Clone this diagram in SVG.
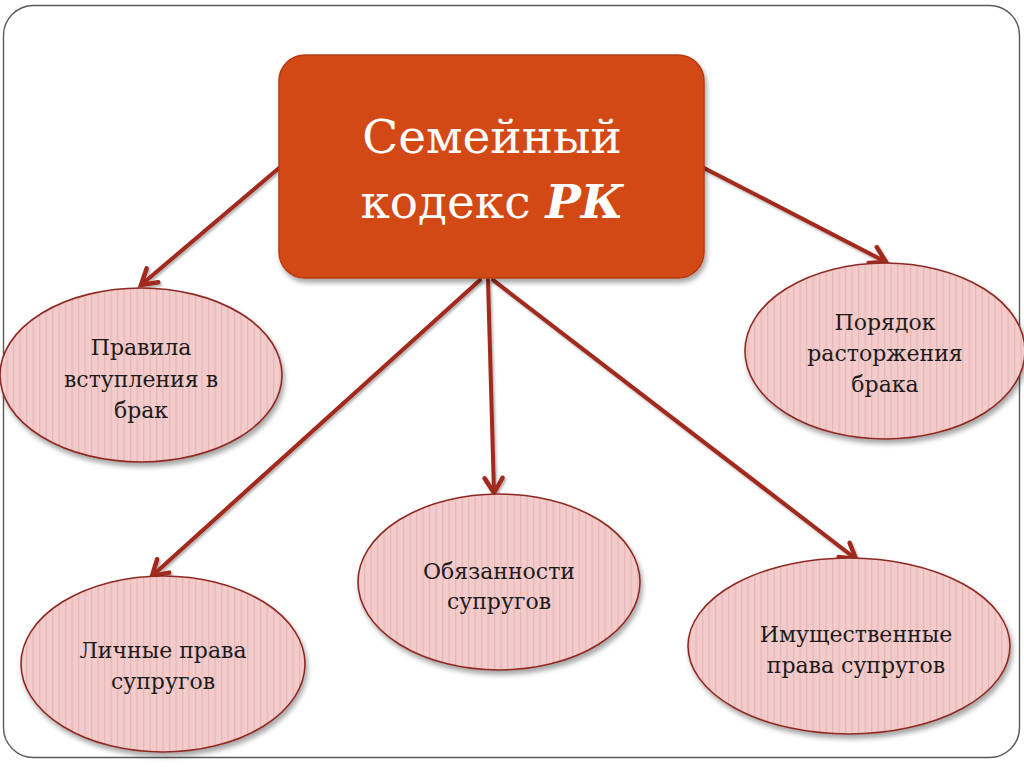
<svg xmlns="http://www.w3.org/2000/svg" width="1024" height="767" viewBox="0 0 1024 767">
  <defs>
    <pattern id="stripes" width="6.5" height="10" patternUnits="userSpaceOnUse">
      <rect width="6.5" height="10" fill="#F3CBCB"/>
      <rect x="0" width="1.2" height="10" fill="#E8B6B6"/>
    </pattern>
    <filter id="shadow" x="-10%" y="-10%" width="125%" height="130%">
      <feDropShadow dx="2" dy="4" stdDeviation="2.5" flood-color="#000" flood-opacity="0.35"/>
    </filter>
    <filter id="lshadow" x="-20%" y="-20%" width="140%" height="140%">
      <feDropShadow dx="1.5" dy="2" stdDeviation="1.2" flood-color="#000" flood-opacity="0.3"/>
    </filter>
    <marker id="arrow" markerUnits="userSpaceOnUse" markerWidth="30" markerHeight="30" viewBox="-20 -15 30 30" refX="0" refY="0" orient="auto">
      <polyline points="-15,-9 0,0 -15,9" fill="none" stroke="#A1291F" stroke-width="4.5" stroke-linecap="round" stroke-linejoin="miter"/>
    </marker>
  </defs>
  <style>
    .ell { fill: url(#stripes); stroke: #8E2A24; stroke-width: 1.6; filter: url(#shadow); }
    .lbl { font-family: "DejaVu Serif", "Liberation Serif", serif; font-size: 22px; fill: #1B1B1B; text-anchor: middle; }
    .title { font-family: "DejaVu Serif", "Liberation Serif", serif; font-size: 47px; fill: #FFFFFF; text-anchor: middle; }
    .conn line { stroke: #A1291F; stroke-width: 4; stroke-linecap: round; marker-end: url(#arrow); }
  </style>

  <rect x="0" y="0" width="1024" height="767" fill="#FFFFFF"/>
  <rect x="3.5" y="5.5" width="1016" height="752" rx="30" ry="30" fill="#FFFFFF" stroke="#5A5A5A" stroke-width="1.4"/>

  <g id="connectors" class="conn" filter="url(#lshadow)">
    <line x1="279" y1="168" x2="141" y2="285"/>
    <line x1="704" y1="168" x2="886" y2="262"/>
    <line x1="488" y1="280" x2="494" y2="493"/>
    <line x1="480" y1="280" x2="152" y2="576"/>
    <line x1="493" y1="280" x2="856" y2="559"/>
  </g>

  <g id="node-main">
    <rect x="279" y="55" width="425" height="223" rx="26" ry="26" fill="#D24A18" stroke="#B43C12" stroke-width="1.5" filter="url(#shadow)"/>
    <text class="title" x="492" y="153">Семейный</text>
    <text class="title" x="492" y="218">кодекс <tspan font-weight="bold" font-style="italic">РК</tspan></text>
  </g>

  <g id="node-pravila">
    <ellipse class="ell" cx="141" cy="375" rx="141" ry="87"/>
    <text class="lbl" x="141" y="355">Правила</text>
    <text class="lbl" x="141" y="387">вступления в</text>
    <text class="lbl" x="141" y="418">брак</text>
  </g>

  <g id="node-poryadok">
    <ellipse class="ell" cx="885" cy="351" rx="140" ry="88"/>
    <text class="lbl" x="885" y="330">Порядок</text>
    <text class="lbl" x="885" y="361">расторжения</text>
    <text class="lbl" x="885" y="392">брака</text>
  </g>

  <g id="node-obyazannosti">
    <ellipse class="ell" cx="499" cy="582" rx="141" ry="88"/>
    <text class="lbl" x="499" y="579">Обязанности</text>
    <text class="lbl" x="499" y="609">супругов</text>
  </g>

  <g id="node-lichnye">
    <ellipse class="ell" cx="163" cy="664" rx="142" ry="88"/>
    <text class="lbl" x="163" y="658">Личные права</text>
    <text class="lbl" x="163" y="689">супругов</text>
  </g>

  <g id="node-imushchestvennye">
    <ellipse class="ell" cx="849" cy="646" rx="161" ry="88"/>
    <text class="lbl" x="856" y="642">Имущественные</text>
    <text class="lbl" x="856" y="673">права супругов</text>
  </g>
</svg>
